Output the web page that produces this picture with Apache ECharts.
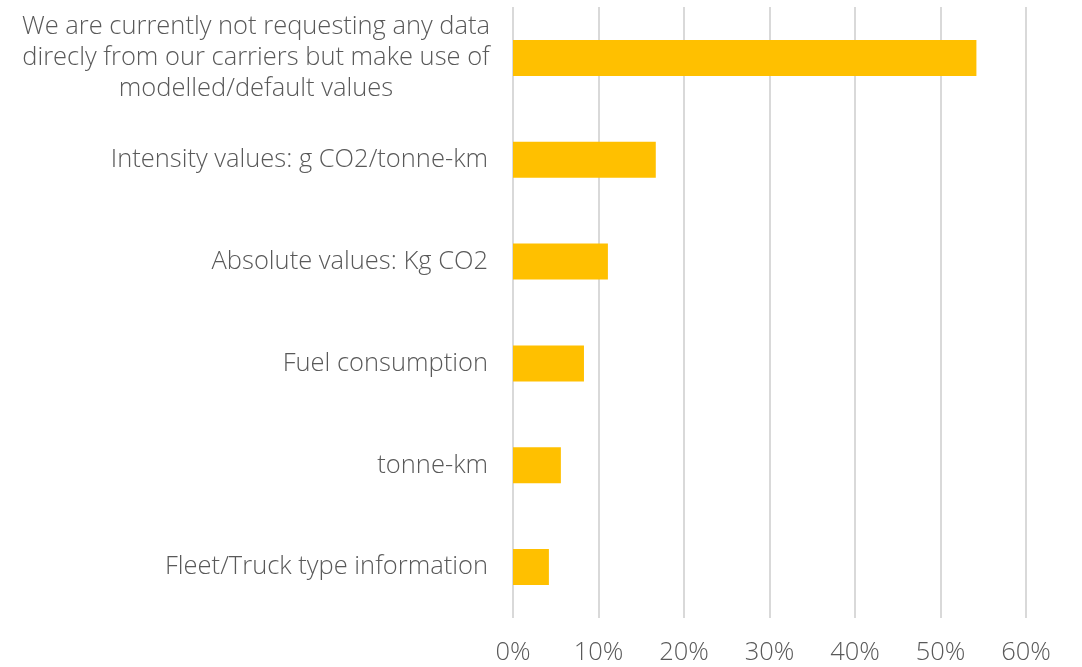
<!DOCTYPE html>
<html>
<head>
<meta charset="utf-8">
<script src="https://cdn.jsdelivr.net/npm/echarts@6/dist/echarts.min.js"></script>
<style>
  html, body { margin: 0; padding: 0; background: #fff; }
  #chart { width: 1082px; height: 667px; }
</style>
</head>
<body>
<div id="chart"></div>
<script>
const categories = [
  "Fleet/Truck type information",
  "tonne-km",
  "Fuel consumption",
  "Absolute values: Kg CO2",
  "Intensity values: g CO2/tonne-km",
  "We are currently not requesting any data\ndirecly from our carriers but make use of\nmodelled/default values"
];
const shares = [4.2, 5.6, 8.3, 11.1, 16.7, 54.2];
const tickValues = [0, 10, 20, 30, 40, 50, 60];

const chart = echarts.init(document.getElementById("chart"));

const options = {
  animation: false,
  textStyle: { fontFamily: "Open Sans", fontWeight: 300 },
  grid: { left: 513, right: 56, top: 7, bottom: 49 },
  xAxis: {
    type: "value",
    min: tickValues[0],
    max: tickValues[tickValues.length - 1],
    interval: 10,
    axisLine: { show: false },
    axisTick: { show: false },
    axisLabel: {
      formatter: "{value}%",
      color: "#595959",
      fontSize: 25.5,
      fontWeight: 300,
      margin: 22
    },
    splitLine: { lineStyle: { color: "#d9d9d9", width: 2 } }
  },
  yAxis: {
    type: "category",
    data: categories,
    axisLine: { show: false },
    axisTick: { show: false },
    axisLabel: {
      color: "#595959",
      fontSize: 25.5,
      fontWeight: 300,
      margin: 25,
      formatter: function (v) {
        if (v.indexOf("\n") < 0) return v;
        return v.split("\n").map(l => "{c|" + l + "}").join("\n");
      },
      rich: {
        c: { width: 464, align: "center", fontSize: 25.5, fontWeight: 300, lineHeight: 31, color: "#595959" }
      }
    }
  },
  series: [{
    type: "bar",
    data: shares,
    barWidth: 36,
    itemStyle: { color: "#FFC000" }
  }]
};

chart.setOption(options);
</script>
</body>
</html>
